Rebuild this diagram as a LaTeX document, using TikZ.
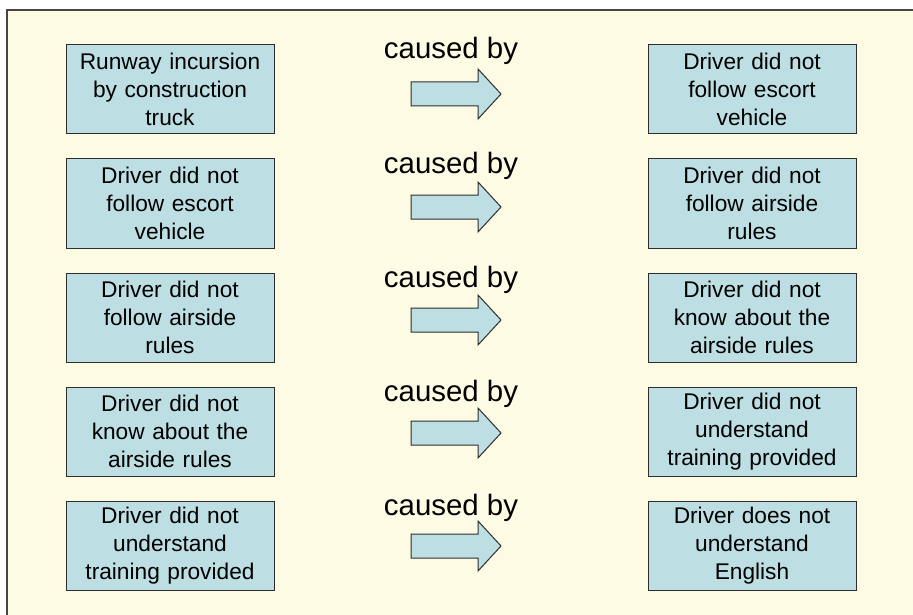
\documentclass[tikz,border=0pt]{standalone}
\usepackage{fontspec}
\setmainfont{Liberation Sans}
\definecolor{paper}{RGB}{254,251,228}
\definecolor{boxfill}{RGB}{189,223,227}
\definecolor{edge}{RGB}{45,45,45}
\definecolor{frame}{RGB}{70,70,70}
\tikzset{
  causebox/.style={draw=edge, line width=1pt, fill=boxfill,
    minimum width=208, minimum height=89, text width=206, align=center,
    inner sep=0pt, font=\fontsize{22.7}{28}\selectfont},
  causelabel/.style={anchor=base, inner sep=0pt, font=\fontsize{29.4}{34}\selectfont},
  blockarrow/.style={draw=edge, line width=1pt, fill=boxfill, line join=miter}}
% one row: effect box, "caused by" label with block arrow, cause box
\newcommand{\chainrow}[3]{%
  \node[causebox] (effect#1) at (170,89.5+114*#1) {#2};
  \node[causebox] (cause#1) at (752,89.5+114*#1) {#3};
  \node[causelabel] (label#1) at (451,59+114*#1) {caused by};
  \coordinate (tip#1) at (501,94+113*#1);
  \draw[blockarrow] (tip#1) -- ++(-23,-25) -- ++(0,13) -- ++(-67,0)
     -- ++(0,24) -- ++(67,0) -- ++(0,13) -- cycle;
}
\begin{document}
\begin{tikzpicture}[x=1pt,y=-1pt]
\useasboundingbox (0,0) rectangle (913,615);
% page background and frame (left and top edges)
\fill[paper] (7,10) rectangle (913,615);
\draw[frame, line width=2pt] (7,615) -- (7,10) -- (913,10);

\chainrow{0}{Runway incursion\\by construction\\truck}{Driver did not\\follow escort\\vehicle}
\chainrow{1}{Driver did not\\follow escort\\vehicle}{Driver did not\\follow airside\\rules}
\chainrow{2}{Driver did not\\follow airside\\rules}{Driver did not\\know about the\\airside rules}
\chainrow{3}{Driver did not\\know about the\\airside rules}{Driver did not\\understand\\training provided}
\chainrow{4}{Driver did not\\understand\\training provided}{Driver does not\\understand\\English}
\end{tikzpicture}
\end{document}
